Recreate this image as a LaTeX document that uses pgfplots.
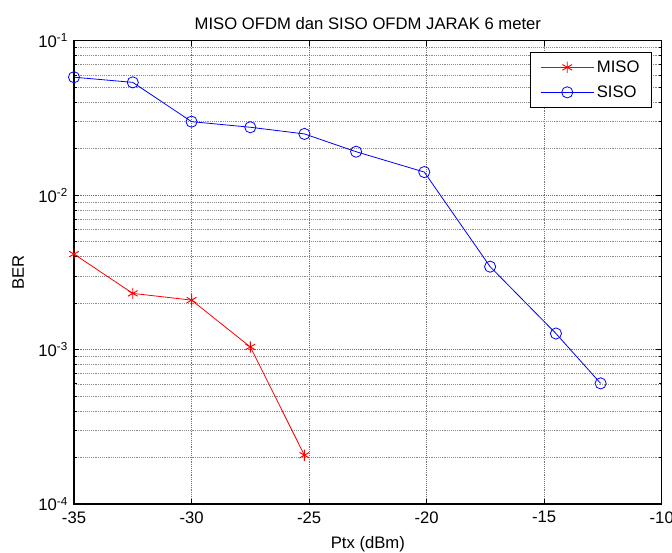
\documentclass[border=0pt]{standalone}
\usepackage{fontspec}
\setmainfont{Liberation Sans}
\usepackage{pgfplots}
\pgfplotsset{compat=1.18}
\usetikzlibrary{calc}

\begin{document}
\begin{tikzpicture}
\begin{axis}[
    scale only axis,
    width=440.8pt,
    height=347.5pt,
    ymode=log,
    xmin=-35, xmax=-10,
    ymin=1e-4, ymax=1e-1,
    xtick={-35,-30,-25,-20,-15,-10},
    xticklabels={-35,-30,-25,-20,-15,-10},
    ytick={1e-4,1e-3,1e-2,1e-1},
    yticklabels={10\textsuperscript{-4},10\textsuperscript{-3},10\textsuperscript{-2},10\textsuperscript{-1}},
    tick label style={font=\fontsize{12.5}{14}\selectfont},
    xticklabel style={yshift=-2pt},
    yticklabel style={xshift=-1pt},
    title={MISO OFDM dan SISO OFDM JARAK 6 meter},
    title style={font=\fontsize{12.5}{14}\selectfont, yshift=-1pt},
    xlabel={Ptx (dBm)},
    ylabel={BER},
    label style={font=\fontsize{12.5}{14}\selectfont},
    xlabel style={yshift=-3pt},
    ylabel style={yshift=4pt},
    grid=both,
    grid style={densely dotted, black!55, line width=0.4pt},
    minor grid style={densely dotted, black!45, line width=0.4pt},
    major tick length=4pt,
    minor tick length=2.2pt,
    tick style={black, line width=0.5pt},
    axis line style={line width=0.8pt},
    legend style={at={(1,1)}, xshift=-7.3pt, yshift=-8.5pt, anchor=north east,
        font=\fontsize{12.5}{15}\selectfont, draw=black, line width=0.8pt,
        inner xsep=7pt, inner ysep=4pt, row sep=4.5pt},
    legend cell align=left,
    legend image code/.code={
        \draw[mark repeat=2,mark phase=2] plot coordinates {(0cm,0cm) (0.7cm,0cm) (1.4cm,0cm)};
    },
]
\addplot[color=red, line width=0.6pt, mark=asterisk, mark size=4.2pt, mark options={line width=0.7pt}]
coordinates {(-35,0.00415) (-32.5,0.00231) (-30,0.00209) (-27.5,0.00104) (-25.2,0.000207)};
\addlegendentry{MISO}
\addplot[color=blue, line width=0.6pt, mark=o, mark size=4.2pt, mark options={line width=0.6pt}]
coordinates {(-35,0.058) (-32.5,0.0537) (-30,0.0299) (-27.5,0.0275) (-25.2,0.0249)
    (-23,0.0191) (-20.1,0.0141) (-17.3,0.00344) (-14.5,0.00127) (-12.6,0.000604)};
\addlegendentry{SISO}
\end{axis}
\pgfresetboundingbox
\path ($(current axis.south west)+(-55.5pt,-36.75pt)$) rectangle ($(current axis.north east)+(7.7pt,30.5pt)$);
\end{tikzpicture}
\end{document}
